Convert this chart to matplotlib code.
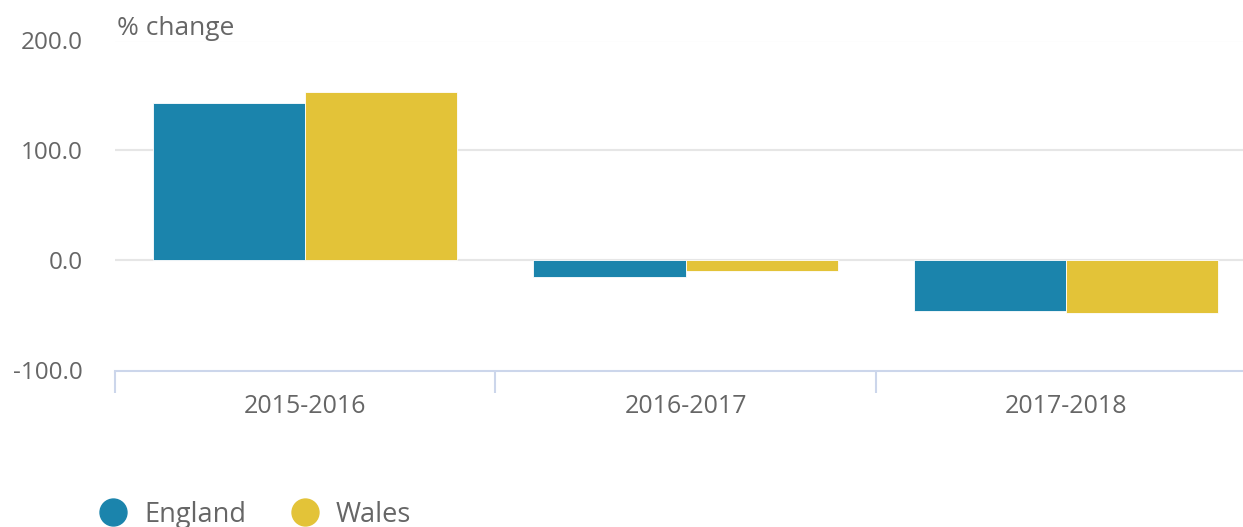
import matplotlib
matplotlib.use("Agg")
import matplotlib.pyplot as plt
from matplotlib.lines import Line2D
import numpy as np

categories = ["2015-2016", "2016-2017", "2017-2018"]
england = [143.5, -15.1, -45.7]
wales = [153.5, -9.1, -47.5]
series_names = ["England", "Wales"]
colors = ["#1b84ac", "#e3c338"]
yticks = [-100, 0, 100, 200]

plt.rcParams['font.family'] = ['Open Sans', 'DejaVu Sans']
W, H = 1243, 527
fig = plt.figure(figsize=(W / 100, H / 100), dpi=100)
ax = fig.add_axes([115 / W, 1 - 370.5 / H, (W - 115) / W, (370.5 - 40.5) / H])

x = np.arange(len(categories))
bw = 0.4
ax.bar(x - bw / 2, england, width=bw, color=colors[0], edgecolor='white', linewidth=0.6, zorder=3)
ax.bar(x + bw / 2, wales, width=bw, color=colors[1], edgecolor='white', linewidth=0.6, zorder=3)

ax.set_xlim(-0.5, 2.5 - 13 / 380)
ax.set_ylim(-100, 200)
ax.set_yticks(yticks)
ax.set_yticklabels([f"{v:.1f}" for v in yticks])
for v in yticks[1:]:
    ax.axhline(v, color='#e6e6e6', linewidth=1.5, zorder=1)

for s in ['top', 'right', 'left']:
    ax.spines[s].set_visible(False)
ax.spines['bottom'].set_color('#ccd6eb')
ax.spines['bottom'].set_linewidth(1.5)

ax.set_xticks(x)
ax.set_xticklabels(categories)
ax.set_xticks([-0.5, 0.5, 1.5], minor=True)
ax.tick_params(axis='x', which='major', length=0, pad=17, labelsize=18, labelcolor='#666666')
ax.tick_params(axis='x', which='minor', length=16, width=1.5, color='#ccd6eb', direction='out')
ax.tick_params(axis='y', length=0, pad=23, labelsize=17.5, labelcolor='#666666')

fig.text(117 / W, 1 - 28.5 / H, "% change", fontsize=19, color='#666666', va='center', ha='left')

# legend (manual layout)
leg_y = 1 - 515 / H
for name, c, cx in zip(series_names, colors, [113, 305]):
    fig.add_artist(Line2D([cx / W], [1 - 512 / H], marker='o', linestyle='none', markersize=19.4,
                          markerfacecolor=c, markeredgecolor=c, transform=fig.transFigure))
    fig.text((cx + 31) / W, leg_y, name, fontsize=19.5, color='#666666', va='center', ha='left')

fig.savefig("out.png", dpi=100)
